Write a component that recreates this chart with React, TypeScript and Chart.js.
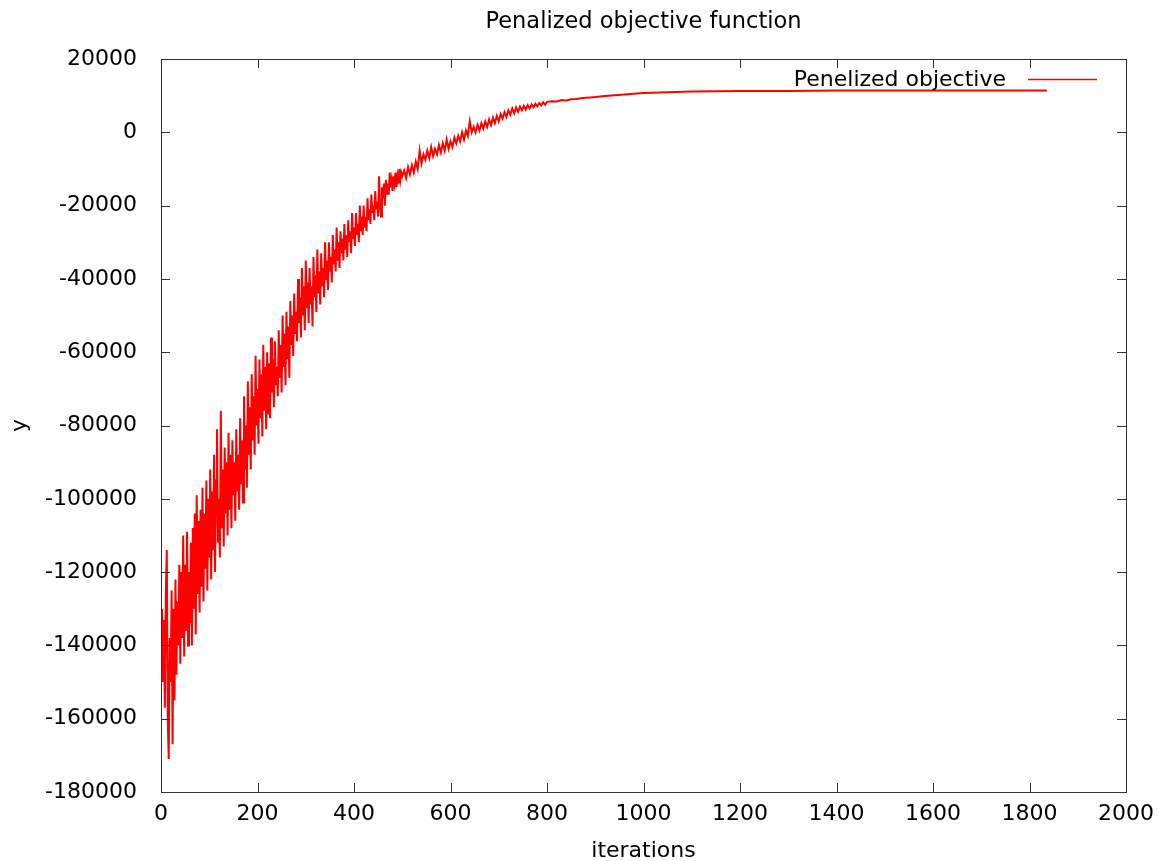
import React, { useEffect, useRef } from "react";
import { Chart, registerables } from "chart.js";

Chart.register(...registerables);

const chartTitle = "Penalized objective function";
const seriesLabel = "Penelized objective";
const xAxisTitle = "iterations";
const yAxisTitle = "y";

const xTicks = [0, 200, 400, 600, 800, 1000, 1200, 1400, 1600, 1800, 2000];
const yTicks = [20000, 0, -20000, -40000, -60000, -80000, -100000, -120000, -140000, -160000, -180000];

// iterations 0..500, read every 2 iterations
const earlyStart = 0;
const earlyStep = 2;
const earlyValues = [
  -145000, -130000, -150000, -133000, -157000, -126000, -114000, -160000, -171000, -138000,
  -150000, -125000, -167000, -130000, -155000, -122000, -148000, -128000, -140000, -118000,
  -145000, -120000, -138000, -110000, -143000, -118000, -136000, -109000, -140000, -120000,
  -134000, -112000, -140000, -108000, -130000, -104000, -137000, -99000, -126000, -106000,
  -131000, -103000, -124000, -97000, -128000, -104000, -119000, -95000, -125000, -100000,
  -116000, -92000, -122000, -98000, -114000, -88000, -120000, -95000, -81000, -112000,
  -100000, -116000, -76000, -108000, -92000, -113000, -86000, -104000, -90000, -110000,
  -82000, -103000, -88000, -108000, -84000, -99000, -90000, -106000, -81000, -98000,
  -88000, -103000, -78000, -96000, -84000, -101000, -72000, -92000, -80000, -97000,
  -68000, -88000, -75000, -92000, -66000, -84000, -72000, -88000, -61000, -80000,
  -70000, -85000, -62000, -78000, -66000, -83000, -58000, -76000, -64000, -81000,
  -60000, -77000, -63000, -78000, -56000, -71000, -62000, -75000, -57000, -69000,
  -64000, -72000, -54000, -67000, -58000, -71000, -50000, -64000, -55000, -69000,
  -49000, -62000, -53000, -67000, -46000, -58000, -50000, -61000, -44000, -55000,
  -49000, -57000, -40000, -52000, -45000, -56000, -37000, -50000, -42000, -54000,
  -35000, -48000, -41000, -52000, -37000, -47000, -42000, -53000, -34000, -45000,
  -39000, -49000, -32000, -44000, -38000, -47000, -33000, -42000, -37000, -45000,
  -30000, -40000, -35000, -43000, -30000, -38000, -34000, -41000, -28000, -36000,
  -32000, -38000, -26000, -35000, -30000, -37000, -27000, -33000, -29000, -35000,
  -25000, -32000, -28000, -34000, -24000, -30000, -27000, -33000, -22000, -29000,
  -26000, -31000, -22000, -28000, -25000, -30000, -20000, -27000, -23000, -28000,
  -20000, -26000, -23000, -27000, -18000, -24000, -21000, -25000, -17000, -22000,
  -20000, -24000, -16000, -21000, -19000, -23000, -12000, -20000, -23000, -15000,
  -18000, -14000, -20000, -13000, -17000, -14000, -17000, -11000, -15000, -13000,
  -16000, -12000, -14000, -11000, -15000, -12000, -14000, -10000, -13000, -11000,
  -12000,
];

// iterations 504..800, read every 4 iterations
const midStart = 504;
const midStep = 4;
const midValues = [
  -10500, -12500, -9500, -11500, -9000, -11000, -8000, -10000, -5000, -8500,
  -6000, -7500, -5000, -7000, -4000, -6500, -4500, -6000, -3500, -5500,
  -3000, -5000, -2000, -4500, -2500, -4000, -1500, -3000, -1000, -2500,
  0, -2000, 500, -1000, 3000, 0, 1500, 0, 2000, 500,
  2500, 1000, 3000, 1500, 3500, 2000, 4000, 2500, 4500, 3000,
  5000, 3800, 5500, 4200, 6000, 4800, 6500, 5200, 6800, 5600,
  7000, 6000, 7200, 6200, 7400, 6500, 7600, 6800, 7800, 7100,
  8000, 7300, 8200, 7500, 8300,
];

const lateIterations = [810, 820, 830, 840, 850, 860, 870, 880, 890, 900, 920, 940, 960, 980, 1000, 1050, 1100, 1150, 1200, 1300, 1400, 1500, 1600, 1700, 1836];
const lateValues = [8500, 8400, 8800, 8700, 9000, 9100, 9300, 9400, 9500, 9600, 9900, 10100, 10300, 10500, 10700, 10900, 11100, 11200, 11300, 11300, 11400, 11400, 11400, 11400, 11400];

const FONT = "DejaVu Sans";
const FONT_SIZE = 22;
const LINE_COLOR = "#ff0000";
const BORDER_COLOR = "#333333";

function buildPoints() {
  const pts: { x: number; y: number }[] = [];
  earlyValues.forEach((v, i) => pts.push({ x: earlyStart + i * earlyStep, y: v }));
  midValues.forEach((v, i) => pts.push({ x: midStart + i * midStep, y: v }));
  lateValues.forEach((v, i) => pts.push({ x: lateIterations[i], y: v }));
  return pts;
}

const framePlugin = {
  id: "gnuplotFrame",
  afterDatasetsDraw(chart: any) {
    const { ctx, chartArea, scales } = chart;
    const { left, right, top, bottom } = chartArea;
    const tickLen = 9;
    ctx.save();
    ctx.strokeStyle = BORDER_COLOR;
    ctx.lineWidth = 1;
    ctx.beginPath();
    xTicks.forEach((v) => {
      const px = Math.round(scales.x.getPixelForValue(v)) + 0.5;
      ctx.moveTo(px, bottom);
      ctx.lineTo(px, bottom - tickLen);
      ctx.moveTo(px, top);
      ctx.lineTo(px, top + tickLen);
    });
    yTicks.forEach((v) => {
      const py = Math.round(scales.y.getPixelForValue(v)) + 0.5;
      ctx.moveTo(left, py);
      ctx.lineTo(left + tickLen, py);
      ctx.moveTo(right, py);
      ctx.lineTo(right - tickLen, py);
    });
    ctx.stroke();
    ctx.strokeRect(Math.round(left) + 0.5, Math.round(top) + 0.5, Math.round(right - left), Math.round(bottom - top));

    // legend (gnuplot style: text then sample line at top-right)
    const label = chart.data.datasets[0].label;
    ctx.font = `${FONT_SIZE}px "${FONT}"`;
    ctx.fillStyle = "#000";
    ctx.textAlign = "right";
    ctx.textBaseline = "middle";
    ctx.fillText(label, right - 120, 80);
    ctx.strokeStyle = LINE_COLOR;
    ctx.lineWidth = 1.5;
    ctx.beginPath();
    ctx.moveTo(right - 98, 79.5);
    ctx.lineTo(right - 29, 79.5);
    ctx.stroke();
    ctx.restore();
  },
};

export default function App() {
  const canvasRef = useRef<HTMLCanvasElement | null>(null);

  useEffect(() => {
    if (!canvasRef.current) return;
    const chart = new Chart(canvasRef.current, {
      type: "line",
      data: {
        datasets: [
          {
            label: seriesLabel,
            data: buildPoints(),
            borderColor: LINE_COLOR,
            backgroundColor: LINE_COLOR,
            borderWidth: 2,
            pointRadius: 0,
            tension: 0,
            fill: false,
          },
        ],
      },
      options: {
        animation: false,
        responsive: false,
        layout: { padding: { left: 0, right: 36, top: 0, bottom: 0 } },
        plugins: {
          legend: { display: false },
          tooltip: { enabled: false },
          title: {
            display: true,
            text: chartTitle,
            fullSize: false,
            color: "#000",
            font: { family: FONT, size: 22.5, weight: "normal", lineHeight: 1.2 },
            padding: { top: 9, bottom: 23 },
          },
        },
        scales: {
          x: {
            type: "linear",
            min: 0,
            max: 2000,
            afterBuildTicks: (scale: any) => {
              scale.ticks = xTicks.map((v) => ({ value: v }));
            },
            afterFit: (scale: any) => {
              scale.height = 69;
            },
            grid: { display: false, drawTicks: false },
            border: { display: false },
            ticks: {
              autoSkip: false,
              maxRotation: 0,
              padding: 9,
              color: "#000",
              font: { family: FONT, size: FONT_SIZE },
              callback: (v: any) => String(v),
            },
            title: {
              display: true,
              text: xAxisTitle,
              color: "#000",
              font: { family: FONT, size: FONT_SIZE, lineHeight: 0.8 },
              padding: { top: 1, bottom: 1 },
            },
          },
          y: {
            type: "linear",
            min: -180000,
            max: 20000,
            afterBuildTicks: (scale: any) => {
              scale.ticks = yTicks.map((v) => ({ value: v }));
            },
            afterFit: (scale: any) => {
              scale.width = 161;
            },
            grid: { display: false, drawTicks: false },
            border: { display: false },
            ticks: {
              autoSkip: false,
              padding: 24,
              color: "#000",
              font: { family: FONT, size: FONT_SIZE },
              callback: (v: any) => String(v),
            },
            title: {
              display: true,
              text: yAxisTitle,
              color: "#000",
              font: { family: FONT, size: FONT_SIZE, lineHeight: 1.2 },
              padding: { top: 7, bottom: 7 },
            },
          },
        },
      },
      plugins: [framePlugin],
    });
    return () => chart.destroy();
  }, []);

  return (
    <div style={{ position: "fixed", left: 0, top: 0, width: 1163, height: 861, background: "#fff" }}>
      <canvas ref={canvasRef} width={1163} height={861} />
    </div>
  );
}
